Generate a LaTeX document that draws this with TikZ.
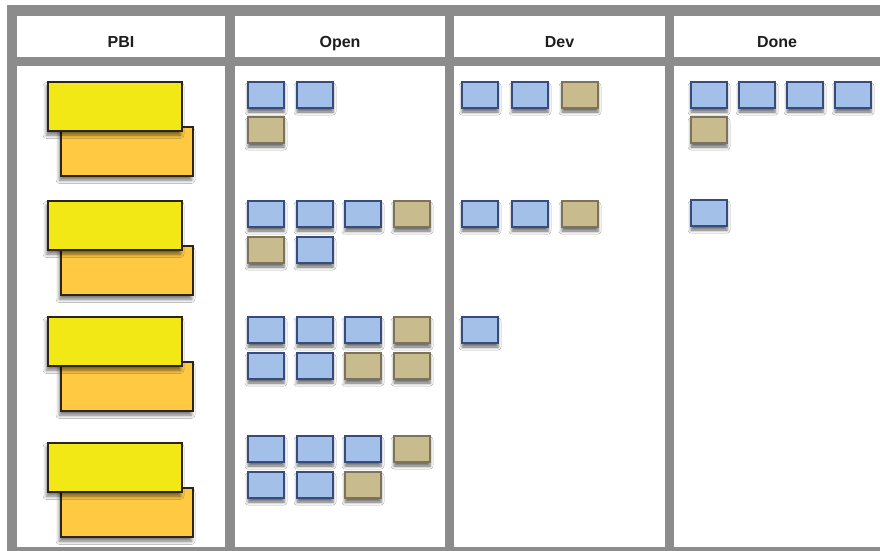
\documentclass[tikz,border=0pt]{standalone}
\usepackage{fontspec}
\setmainfont{Liberation Sans}
\usetikzlibrary{shadows.blur}

\definecolor{framegray}{RGB}{140,140,140}
\definecolor{headtext}{RGB}{30,30,30}
\definecolor{cardblue}{RGB}{162,192,232}
\definecolor{cardblueline}{RGB}{55,75,125}
\definecolor{cardtan}{RGB}{200,187,142}
\definecolor{cardtanline}{RGB}{125,115,92}
\definecolor{pbiyellow}{RGB}{242,232,22}
\definecolor{pbiorange}{RGB}{255,202,66}
\definecolor{pbiline}{RGB}{45,35,25}

\tikzset{
  cell/.style={fill=white},
  colhead/.style={font=\bfseries\fontsize{16}{18}\selectfont, text=headtext, anchor=base},
  card/.style={rectangle, inner sep=0pt, outer sep=0pt, anchor=north west,
    minimum width=36pt, minimum height=26pt, line width=1.2pt,
    blur shadow={shadow xshift=0pt, shadow yshift=-4pt,
                 shadow blur radius=3pt, shadow opacity=60}},
  taskblue/.style={card, fill=cardblue, draw=cardblueline},
  tasktan/.style={card, fill=cardtan, draw=cardtanline},
  sticky/.style={rectangle, inner sep=0pt, outer sep=0pt, anchor=north west,
    minimum height=49pt, line width=1.3pt, draw=pbiline,
    blur shadow={shadow xshift=-1.5pt, shadow yshift=-4pt,
                 shadow blur radius=3.5pt, shadow opacity=55}},
  pbifront/.style={sticky, fill=pbiyellow, minimum width=134pt},
  pbiback/.style={sticky, fill=pbiorange, minimum width=132pt},
}

\begin{document}
\begin{tikzpicture}[x=1pt, y=-1pt]
\useasboundingbox (0,0) rectangle (880,551);

% board frame and its white cells
\fill[framegray] (7,5) rectangle (880,551);
\foreach \xa/\xb in {17/225, 235/445, 454/665, 674/880} {
  \fill[cell] (\xa,16) rectangle (\xb,57);
  \fill[cell] (\xa,66) rectangle (\xb,547);
}

% column headings
\node[colhead] (hpbi)  at (121,47.5) {PBI};
\node[colhead] (hopen) at (340,47.5) {Open};
\node[colhead] (hdev)  at (559.5,47.5) {Dev};
\node[colhead] (hdone) at (777,47.5) {Done};

% product backlog items: back sheet first, front sheet on top
\foreach \r/\y in {1/82, 2/201, 3/317, 4/443} {
  \pgfmathsetmacro{\yb}{\y+45}
  \node[pbiback]  (pbi\r b) at (61,\yb) {};
  \node[pbifront] (pbi\r a) at (48,\y) {};
}

% tasks in the Open column
\foreach \n/\x/\y/\s in {
  o11/248/82/taskblue, o12/297/82/taskblue, o13/248/117/tasktan,
  o21/248/201/taskblue, o22/297/201/taskblue, o23/345/201/taskblue, o24/394/201/tasktan,
  o25/248/237/tasktan, o26/297/237/taskblue,
  o31/248/317/taskblue, o32/297/317/taskblue, o33/345/317/taskblue, o34/394/317/tasktan,
  o35/248/353/taskblue, o36/297/353/taskblue, o37/345/353/tasktan, o38/394/353/tasktan,
  o41/248/436/taskblue, o42/297/436/taskblue, o43/345/436/taskblue, o44/394/436/tasktan,
  o45/248/472/taskblue, o46/297/472/taskblue, o47/345/472/tasktan}
  \node[\s] (\n) at (\x,\y) {};

% tasks in the Dev column
\foreach \n/\x/\y/\s in {
  d11/462/82/taskblue, d12/512/82/taskblue, d13/562/82/tasktan,
  d21/462/201/taskblue, d22/512/201/taskblue, d23/562/201/tasktan,
  d31/462/317/taskblue}
  \node[\s] (\n) at (\x,\y) {};

% tasks in the Done column
\foreach \n/\x/\y/\s in {
  n11/691/82/taskblue, n12/739/82/taskblue, n13/787/82/taskblue, n14/835/82/taskblue,
  n15/691/117/tasktan,
  n21/691/200/taskblue}
  \node[\s] (\n) at (\x,\y) {};
\end{tikzpicture}
\end{document}
